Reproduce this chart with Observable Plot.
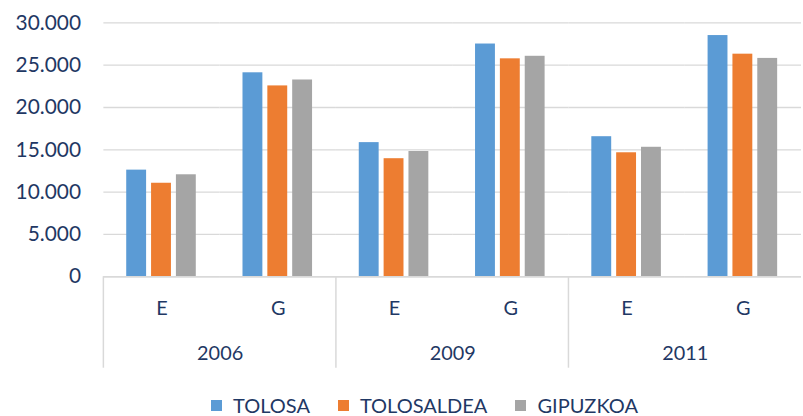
<!DOCTYPE html>
<html>
<head>
<meta charset="utf-8">
<script src="https://cdn.jsdelivr.net/npm/d3@7"></script>
<script src="https://cdn.jsdelivr.net/npm/@observablehq/plot@0.6"></script>
<style>
  html, body { margin: 0; padding: 0; background: #fff; overflow: hidden; width: 803px; height: 416px; }
  #chart { position: relative; width: 803px; height: 416px; }
  #legend { position: absolute; left: 211px; top: 395px; height: 20px; line-height: 20px; display: flex; align-items: center;
            font-family: Lato, "Open Sans", sans-serif; font-size: 20px; color: #1f3864; }
  #legend .item { display: flex; align-items: center; margin-right: 28px; }
  #legend .sw { width: 11px; height: 11px; margin-right: 11px; }
</style>
</head>
<body>
<div id="chart"></div>
<script>
const years = ["2006", "2009", "2011"];
const types = ["E", "G"];
const series = ["TOLOSA", "TOLOSALDEA", "GIPUZKOA"];
const colors = ["#5b9bd5", "#ed7d31", "#a5a5a5"];
// values in order: 2006E, 2006G, 2009E, 2009G, 2011E, 2011G
const tolosa     = [12600, 24100, 15850, 27500, 16550, 28500];
const tolosaldea = [11050, 22550, 13950, 25750, 14650, 26300];
const gipuzkoa   = [12050, 23250, 14800, 26050, 15300, 25800];
const yTicks = [0, 5000, 10000, 15000, 20000, 25000, 30000];

const groupKeys = years.flatMap(y => types.map(t => y + "|" + t));
const seriesValues = [tolosa, tolosaldea, gipuzkoa];
const rows = [];
groupKeys.forEach((k, i) => {
  series.forEach((s, j) => rows.push({group: k, series: s, value: seriesValues[j][i]}));
});

const fmt = d3.formatLocale({decimal: ",", thousands: ".", grouping: [3], currency: ["", ""]}).format(",");
const textColor = "#1f3864";
const gridColor = "#d9d9d9";

const plot = Plot.plot({
  width: 808,
  height: 390,
  marginLeft: 102,
  marginRight: 0,
  marginTop: 22.5,
  marginBottom: 112,
  style: {fontFamily: "Lato, 'Open Sans', sans-serif", fontSize: "21px", color: textColor, background: "transparent", overflow: "visible"},
  fx: {domain: groupKeys, padding: 0, label: null},
  x: {domain: series, paddingInner: 0.19, paddingOuter: 0.865, axis: null},
  y: {domain: [0, 30000], axis: null, label: null},
  color: {domain: series, range: colors},
  marks: [
    Plot.gridY(yTicks, {stroke: gridColor, strokeOpacity: 1, strokeWidth: 1.3}),
    Plot.axisY(yTicks, {tickSize: 0, tickPadding: 23, tickFormat: fmt, fill: textColor, fontSize: 21, label: null}),
    Plot.barY(rows, {fx: "group", x: "series", y: "value", fill: "series"}),
    Plot.ruleY([0], {stroke: gridColor, strokeWidth: 1.5}),
    Plot.axisFx({anchor: "bottom", tickSize: 0, tickPadding: 24, tickFormat: k => k.split("|")[1], fill: textColor, fontSize: 20, label: null}),
    Plot.text(years, {fx: y => y + "|E", frameAnchor: "bottom-right", textAnchor: "middle", lineAnchor: "middle", text: d => d, dy: 77, fill: textColor, fontSize: 20})
  ]
});

// year separators, positioned from the fx scale
const fxs = plot.scale("fx");
const svg = d3.select(plot);
const y0 = plot.scale("y").apply(0);
years.forEach(y => {
  const x = fxs.apply(y + "|E");
  svg.append("line")
    .attr("x1", x).attr("x2", x)
    .attr("y1", y0).attr("y2", y0 + 92)
    .attr("stroke", gridColor).attr("stroke-width", 1.5);
});

const chart = document.getElementById("chart");
chart.appendChild(plot);

const legend = document.createElement("div");
legend.id = "legend";
series.forEach((s, i) => {
  const item = document.createElement("div");
  item.className = "item";
  const sw = document.createElement("span");
  sw.className = "sw";
  sw.style.background = plot.scale("color").apply(s);
  const lab = document.createElement("span");
  lab.textContent = s;
  item.appendChild(sw);
  item.appendChild(lab);
  legend.appendChild(item);
});
chart.appendChild(legend);
</script>
</body>
</html>
